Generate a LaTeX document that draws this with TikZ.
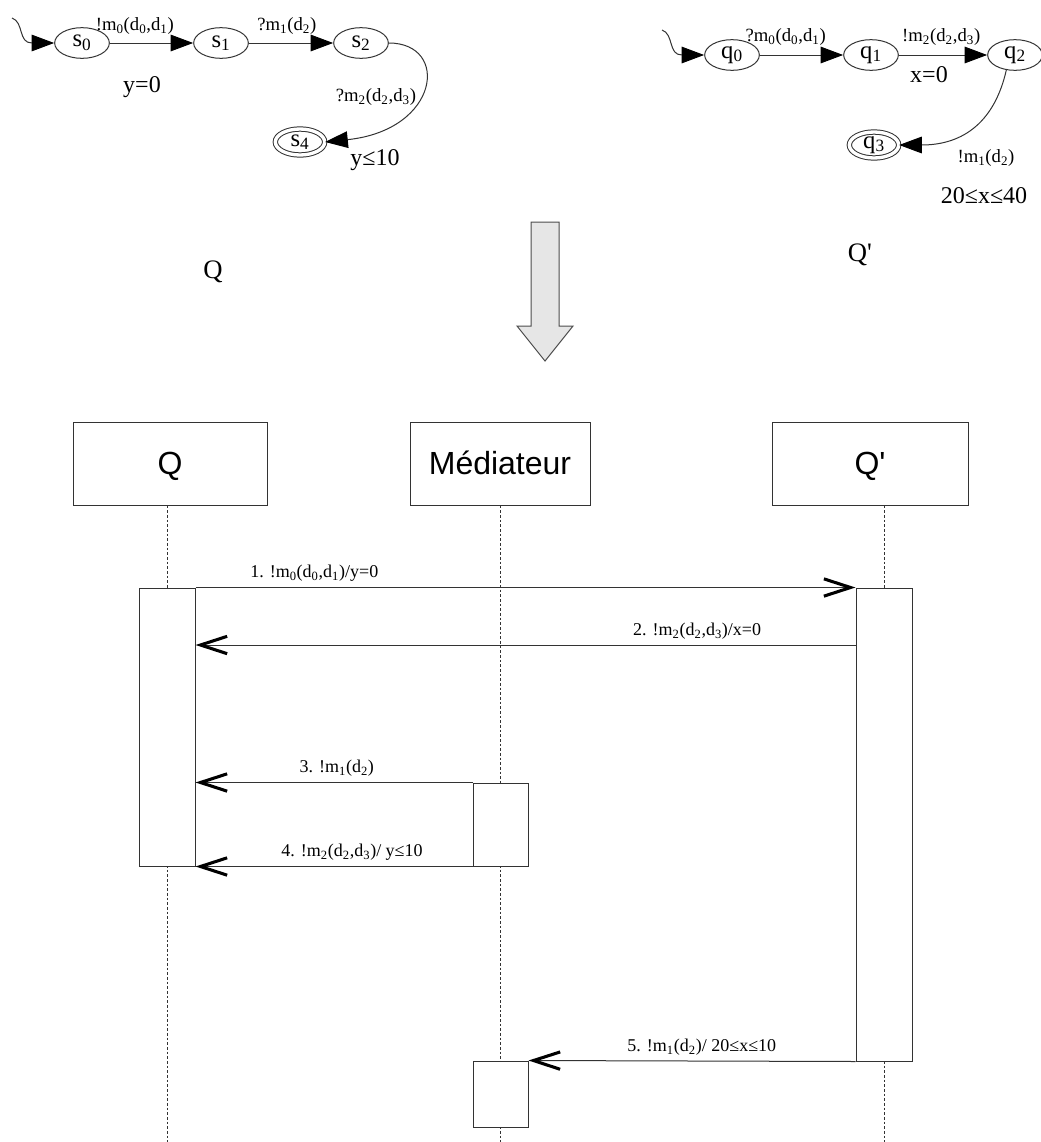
\documentclass[tikz,border=0pt]{standalone}
\usepackage{fontspec}
\setmainfont{Liberation Serif}[Ligatures=TeXOff]
\setsansfont{Liberation Sans}[Ligatures=TeXOff]
\usetikzlibrary{arrows.meta, positioning, shapes.geometric, fit}
\definecolor{cline}{HTML}{333333}
\definecolor{cfill}{HTML}{E6E6E6}
\newcommand{\ix}[1]{\textsubscript{#1}}
\tikzset{
  every picture/.style={line width=0.75pt},
  state/.style={draw=cline, ellipse, minimum width=41pt, minimum height=23pt, inner sep=0pt, font=\fontsize{18.5}{20}\selectfont},
  final/.style={state, double, double distance=2.5pt, minimum width=37pt, minimum height=19.5pt},
  tr/.style={-{Triangle[length=17pt, width=12.5pt, color=black]}, draw=cline},
  lbl/.style={font=\fontsize{14}{16}\selectfont, inner sep=2pt},
  guard/.style={font=\fontsize{18}{20}\selectfont, inner sep=0pt},
  title/.style={font=\fontsize{20}{22}\selectfont},
  head/.style={draw=cline, inner sep=0pt, minimum height=62.25pt, text height=17pt, text depth=0pt, font=\sffamily\fontsize{24}{28}\selectfont},
  act/.style={draw=cline, fill=white, inner sep=0pt},
  life/.style={draw=cline, dash pattern=on 2pt off 1.5pt, line width=0.6pt},
  msg/.style={-{Straight Barb[length=20pt, width=13pt, line width=2.3pt, color=black]}, draw=cline},
  msglbl/.style={font=\fontsize{13.5}{15}\selectfont, above, inner sep=4pt},
  bigarrow/.style={draw=black!70, fill=cfill},
}
\begin{document}
\begin{tikzpicture}[x=0.75pt, y=-0.75pt]
  \useasboundingbox (0,0) rectangle (1041,1142);
  % automaton Q
  \node[state] (s0) at (82,43) {s\ix{0}};
  \node[state] (s1) at (221,43) {s\ix{1}};
  \node[state] (s2) at (361,43) {s\ix{2}};
  \node[final] (s4) at (300,142) {s\ix{4}};
  \coordinate (s0in) at (12,18);
  \draw[tr] (s0in) .. controls (24,22) and (18,43) .. (s0.west);
  \draw[tr] (s0) -- node[lbl, pos=0.3, above=4pt]{!m\ix{0}(d\ix{0},d\ix{1})} (s1);
  \draw[tr] (s1) -- node[lbl, pos=0.45, above=4pt]{?m\ix{1}(d\ix{2})} (s2);
  \draw[tr] (s2.east) .. controls (450,43) and (440,130) .. (s4.east);
  \node[lbl] (l3) at (376,97) {?m\ix{2}(d\ix{2},d\ix{3})};
  \node[guard] (g1) at (142,87) {y=0};
  \node[guard] (g2) at (375,160) {y≤10};
  \node[title] (tq) at (213,272) {Q};
  % automaton Q'
  \node[state] (q0) at (732,55) {q\ix{0}};
  \node[state] (q1) at (871,55) {q\ix{1}};
  \node[state] (q2) at (1015,55) {q\ix{2}};
  \node[final] (q3) at (874,145) {q\ix{3}};
  \coordinate (q0in) at (662,30);
  \draw[tr] (q0in) .. controls (674,34) and (668,55) .. (q0.west);
  \draw[tr] (q0) -- node[lbl, pos=0.31, above=5pt]{?m\ix{0}(d\ix{0},d\ix{1})} (q1);
  \draw[tr] (q1) -- node[lbl, pos=0.48, above=5pt]{!m\ix{2}(d\ix{2},d\ix{3})} (q2);
  \draw[tr] (q2.240) .. controls (995,120) and (965,145) .. (q3.east);
  \node[guard] (g3) at (929,75) {x=0};
  \node[lbl] (l6) at (986,158) {!m\ix{1}(d\ix{2})};
  \node[guard] (g4) at (984,196) {20≤x≤40};
  \node[title] (tqp) at (860,255) {Q'};
  % big arrow down
  \draw[bigarrow] (531,222) -- (559,222) -- (559,326) -- (573,326) -- (545,361)
    -- (517,326) -- (531,326) -- cycle;
  % sequence diagram: heads and lifelines
  \node[head, minimum width=145.5pt] (hq) at (170,463.5) {Q};
  \node[head, minimum width=135pt] (hm) at (500,463.5) {Médiateur};
  \node[head, minimum width=147pt] (hqp) at (870,463.5) {Q'};
  \coordinate (qbot) at (167,1142);
  \coordinate (mbot) at (500,1142);
  \coordinate (qpbot) at (884,1142);
  \draw[life] (hq.south -| qbot) -- (qbot);
  \draw[life] (hm.south -| mbot) -- (mbot);
  \draw[life] (hqp.south -| qpbot) -- (qpbot);
  % activations
  \node[act, fit={(139,588) (195,866)}] (qa) {};
  \node[act, fit={(856,588) (912,1061)}] (qpa) {};
  \node[act, fit={(473,783) (528,866)}] (ma1) {};
  \node[act, fit={(473,1061) (528,1127)}] (ma2) {};
  % messages
  \coordinate (m2) at (0,645);
  \draw[msg] (qa.north east) -- node[msglbl, pos=0.18]{1. !m\ix{0}(d\ix{0},d\ix{1})/y=0} (qpa.north west);
  \draw[msg] (qpa.west |- m2) -- node[msglbl, pos=0.24]{2. !m\ix{2}(d\ix{2},d\ix{3})/x=0} (qa.east |- m2);
  \draw[msg] (ma1.north west) -- node[msglbl, pos=0.49]{3. !m\ix{1}(d\ix{2})} (qa.east |- ma1.north);
  \draw[msg] (ma1.south west) -- node[msglbl, pos=0.435]{4. !m\ix{2}(d\ix{2},d\ix{3})/ y≤10} (qa.east |- ma1.south);
  \draw[msg] (qpa.south west) -- node[msglbl, pos=0.47]{5. !m\ix{1}(d\ix{2})/ 20≤x≤10} (ma2.north east);
\end{tikzpicture}
\end{document}
